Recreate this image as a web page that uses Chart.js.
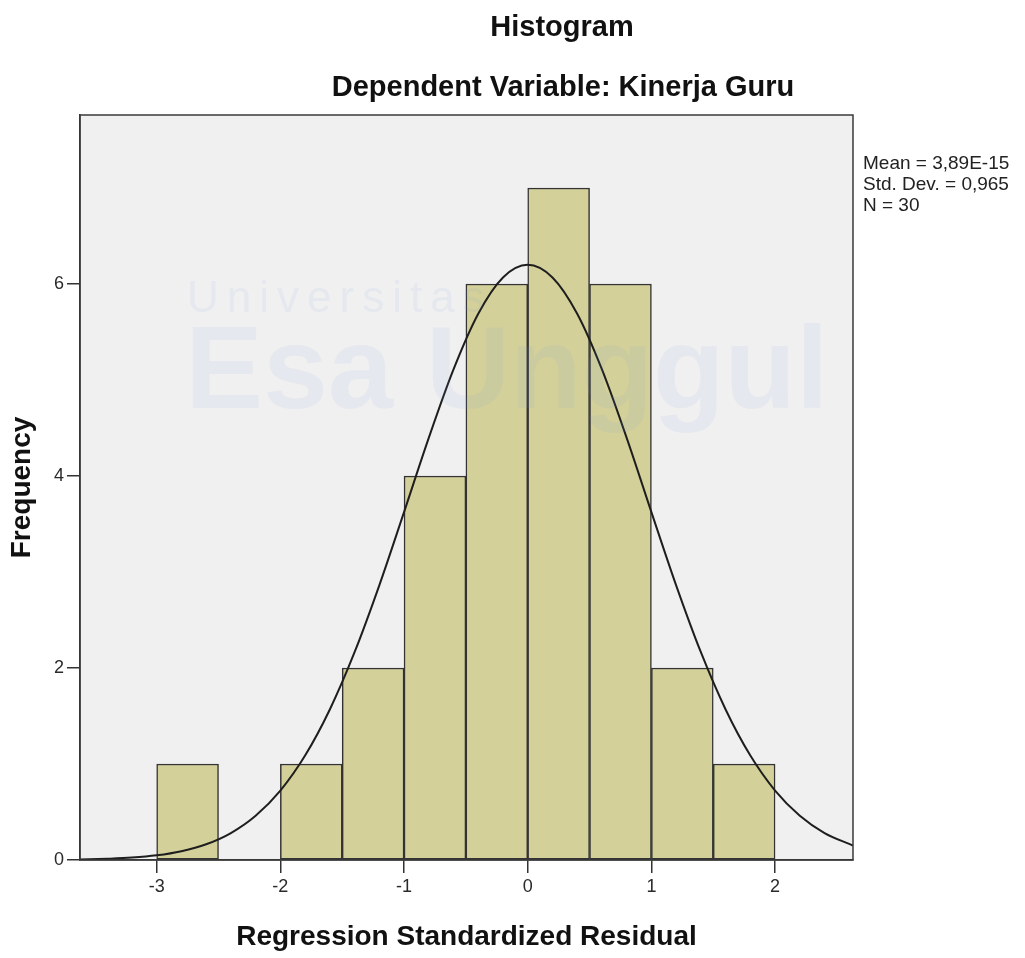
<!DOCTYPE html>
<html>
<head>
<meta charset="utf-8">
<script src="https://cdn.jsdelivr.net/npm/chart.js@4.4.1/dist/chart.umd.min.js"></script>
<style>
    html, body { margin: 0; padding: 0; background: #fff; }
    #wrap { width: 1025px; height: 958px; }
</style>
</head>
<body>
<div id="wrap"><canvas id="chart-histogram" width="1025" height="958"></canvas></div>
<script>
// histogram bins (width 0.5), centre of each bin and its count
const binCenters = [-2.75, -1.75, -1.25, -0.75, -0.25, 0.25, 0.75, 1.25, 1.75];
const frequencies = [1, 1, 2, 4, 6, 7, 6, 2, 1];

// normal curve
const curveX = [-3.62, -3.4, -3.2, -3.0, -2.8, -2.6, -2.4, -2.2, -2.0, -1.8, -1.6, -1.4, -1.2, -1.0, -0.8, -0.6, -0.4, -0.2, 0,
    0.2, 0.4, 0.6, 0.8, 1.0, 1.2, 1.4, 1.6, 1.8, 2.0, 2.2, 2.4, 2.63];
const curveY = [0.005, 0.013, 0.025, 0.049, 0.092, 0.164, 0.281, 0.461, 0.723, 1.088, 1.568, 2.164, 2.861, 3.624, 4.397, 5.110, 5.690, 6.068, 6.200,
    6.068, 5.690, 5.110, 4.397, 3.624, 2.861, 2.164, 1.568, 1.088, 0.723, 0.461, 0.281, 0.151];

const xTicks = [-3, -2, -1, 0, 1, 2];
const yTicks = [0, 2, 4, 6];

const statsLines = ['Mean = 3,89E-15', 'Std. Dev. = 0,965', 'N = 30'];

const FONT = '"Liberation Sans", Arial, sans-serif';

const plotBackground = {
    id: 'plotBackground',
    beforeDraw(chart) {
        const { ctx, chartArea: a } = chart;
        ctx.save();
        ctx.fillStyle = '#f0f0f0';
        ctx.fillRect(a.left, a.top, a.right - a.left, a.bottom - a.top);
        ctx.restore();
    }
};

const frameAndText = {
    id: 'frameAndText',
    afterDraw(chart) {
        const { ctx, chartArea: a } = chart;
        ctx.save();

        // faint watermark
        ctx.fillStyle = 'rgba(120, 160, 220, 0.09)';
        ctx.textBaseline = 'alphabetic';
        ctx.textAlign = 'left';
        ctx.font = '44px ' + FONT;
        ctx.letterSpacing = '8px';
        ctx.fillText('Universitas', 187, 312);
        ctx.letterSpacing = '0px';
        ctx.font = 'bold 117px ' + FONT;
        ctx.fillText('Esa Unggul', 185, 408);

        // plot frame
        ctx.strokeStyle = '#3a3a3a';
        ctx.lineWidth = 1.5;
        ctx.strokeRect(a.left, a.top, a.right - a.left, a.bottom - a.top);

        // titles
        ctx.fillStyle = '#111';
        ctx.textAlign = 'center';
        ctx.textBaseline = 'middle';
        ctx.font = 'bold 29px ' + FONT;
        ctx.fillText('Histogram', 562, 28);
        ctx.fillText('Dependent Variable: Kinerja Guru', 563, 88);

        // stats box text
        ctx.textAlign = 'left';
        ctx.font = '19px ' + FONT;
        ctx.fillStyle = '#222';
        statsLines.forEach((line, i) => ctx.fillText(line, 863, 164 + i * 21));
        ctx.restore();
    }
};

const ctx = document.getElementById('chart-histogram').getContext('2d');
new Chart(ctx, {
    type: 'bar',
    data: {
        datasets: [{
            type: 'line',
            label: 'Normal',
            data: curveX.map((x, i) => ({ x, y: curveY[i] })),
            borderColor: '#1e1e1e',
            borderWidth: 2,
            pointRadius: 0,
            cubicInterpolationMode: 'monotone',
            fill: false,
            order: 0
        }, {
            label: 'Frequency',
            data: binCenters.map((x, i) => ({ x, y: frequencies[i] })),
            backgroundColor: '#d4d09a',
            borderColor: '#333',
            borderWidth: 1.5,
            borderSkipped: false,
            barPercentage: 1,
            categoryPercentage: 1,
            order: 1
        }]
    },
    options: {
        responsive: false,
        animation: false,
        layout: { padding: { top: 115, right: 172, left: 0, bottom: 0 } },
        plugins: {
            legend: { display: false },
            tooltip: { enabled: false }
        },
        scales: {
            x: {
                type: 'linear',
                offset: false,
                min: -3.62,
                max: 2.63,
                afterBuildTicks: s => { s.ticks = xTicks.map(v => ({ value: v })); },
                afterFit: s => { s.height = 98; },
                grid: { offset: false, drawOnChartArea: false, drawTicks: true, tickLength: 13, color: '#333', lineWidth: 1.5 },
                border: { display: true, color: '#333', width: 1.5 },
                ticks: { color: '#2a2a2a', font: { family: FONT, size: 18 }, padding: 3, maxRotation: 0 },
                title: {
                    display: true,
                    text: 'Regression Standardized Residual',
                    color: '#111',
                    font: { family: FONT, size: 28, weight: 'bold' },
                    padding: { top: 0, bottom: 4 }
                }
            },
            y: {
                min: 0,
                max: 7.76,
                afterBuildTicks: s => { s.ticks = yTicks.map(v => ({ value: v })); },
                afterFit: s => { s.width = 80; },
                grid: { drawOnChartArea: false, drawTicks: true, tickLength: 13, color: '#333', lineWidth: 1.5 },
                border: { display: true, color: '#333', width: 1.5 },
                ticks: { color: '#2a2a2a', font: { family: FONT, size: 18 }, padding: 3 },
                title: {
                    display: true,
                    text: 'Frequency',
                    color: '#111',
                    font: { family: FONT, size: 28, weight: 'bold' },
                    padding: { top: 5, bottom: 0 }
                }
            }
        }
    },
    plugins: [plotBackground, frameAndText]
});
</script>
</body>
</html>
